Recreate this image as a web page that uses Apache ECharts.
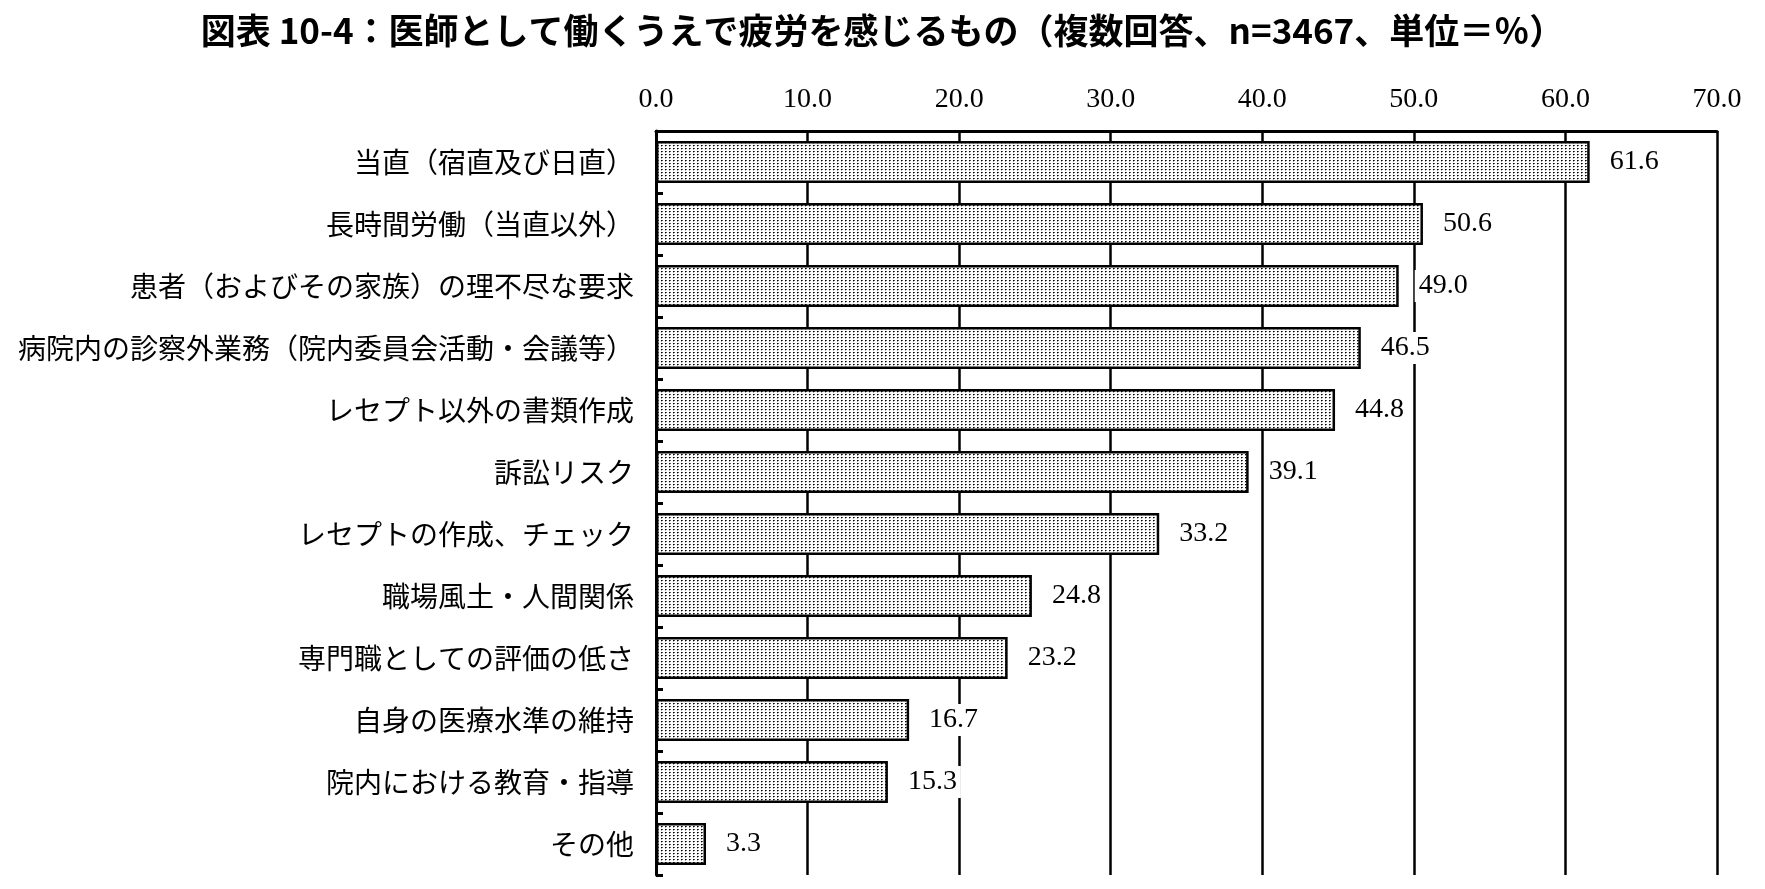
<!DOCTYPE html>
<html>
<head>
<meta charset="utf-8">
<script src="https://cdn.jsdelivr.net/npm/echarts@6/dist/echarts.min.js"></script>
<style>
  html, body { margin: 0; padding: 0; background: #fff; }
  #main { width: 1765px; height: 889px; }
</style>
</head>
<body>
<div id="main"></div>
<script>
    // 項目と回答率（%）
    var categories = [
        '当直（宿直及び日直）',
        '長時間労働（当直以外）',
        '患者（およびその家族）の理不尽な要求',
        '病院内の診察外業務（院内委員会活動・会議等）',
        'レセプト以外の書類作成',
        '訴訟リスク',
        'レセプトの作成、チェック',
        '職場風土・人間関係',
        '専門職としての評価の低さ',
        '自身の医療水準の維持',
        '院内における教育・指導',
        'その他'
    ];
    var values = [61.6, 50.6, 49.0, 46.5, 44.8, 39.1, 33.2, 24.8, 23.2, 16.7, 15.3, 3.3];
    var axisMin = 0;
    var axisMax = 70;
    var axisStep = 10;

    // 網点のパターン
    var tile = document.createElement('canvas');
    tile.width = 4;
    tile.height = 3;
    var ctx = tile.getContext('2d');
    ctx.fillStyle = '#ffffff';
    ctx.fillRect(0, 0, 4, 3);
    ctx.fillStyle = '#000000';
    ctx.fillRect(1, 1, 1, 1);
    ctx.fillStyle = '#555555';
    ctx.fillRect(2, 1, 1, 1);
    ctx.fillStyle = '#aaaaaa';
    ctx.fillRect(1, 2, 1, 1);

    var myChart = echarts.init(document.getElementById('main'));

    var option = {
        backgroundColor: '#ffffff',
        animation: false,
        title: {
            text: '図表 10-4：医師として働くうえで疲労を感じるもの（複数回答、n=3467、単位＝％）',
            left: 'center',
            top: 8,
            textStyle: {
                fontFamily: 'Noto Sans CJK JP',
                fontWeight: 'bold',
                fontSize: 35,
                color: '#000'
            }
        },
        grid: {
            left: 656,
            right: 48,
            top: 131,
            bottom: 14
        },
        xAxis: {
            type: 'value',
            position: 'top',
            min: axisMin,
            max: axisMax,
            interval: axisStep,
            axisLine: { show: true, lineStyle: { color: '#000', width: 3 } },
            axisTick: { show: false },
            axisLabel: {
                margin: 17,
                fontFamily: 'Liberation Serif',
                fontSize: 28,
                color: '#000',
                formatter: function (v) { return v.toFixed(1); }
            },
            splitLine: { show: true, lineStyle: { color: '#000', width: 2.5 } }
        },
        yAxis: {
            type: 'category',
            inverse: true,
            data: categories,
            axisLine: { show: true, lineStyle: { color: '#000', width: 3 } },
            axisTick: { show: true, inside: true, length: 7, lineStyle: { color: '#000', width: 3 } },
            axisLabel: {
                margin: 22,
                fontFamily: 'Noto Sans CJK JP',
                fontSize: 28,
                color: '#000'
            }
        },
        series: [
            {
                type: 'bar',
                data: values,
                barWidth: 42,
                itemStyle: {
                    color: { image: tile, repeat: 'repeat' },
                    borderColor: '#000',
                    borderWidth: 2.5
                },
                label: {
                    show: true,
                    position: 'right',
                    distance: 16,
                    padding: [2, 4],
                    backgroundColor: '#ffffff',
                    fontFamily: 'Liberation Serif',
                    fontSize: 28,
                    color: '#000',
                    formatter: function (p) { return p.value.toFixed(1); }
                }
            }
        ]
    };
    myChart.setOption(option);
</script>
</body>
</html>
